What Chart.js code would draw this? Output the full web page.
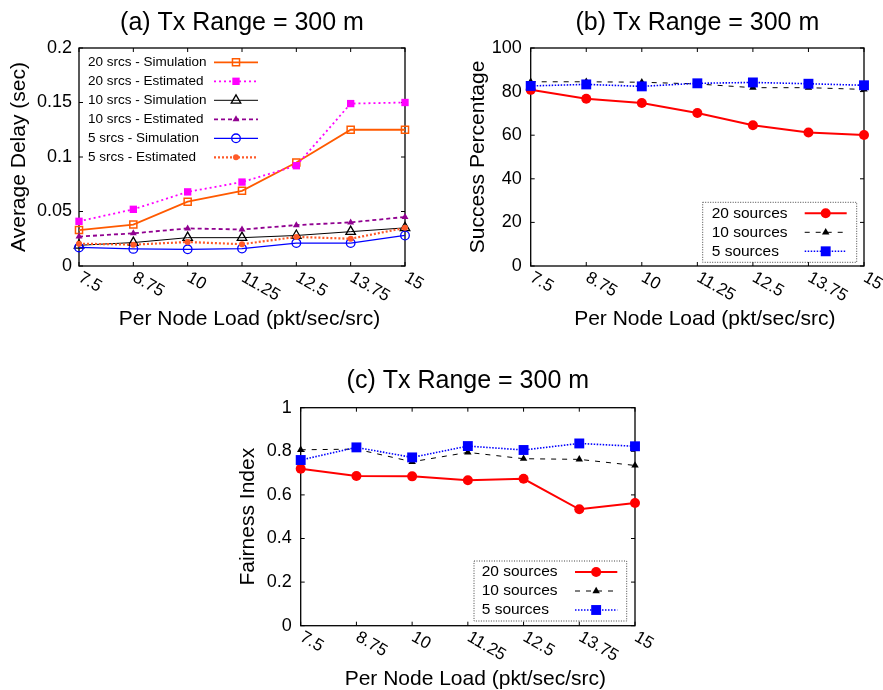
<!DOCTYPE html>
<html>
<head>
<meta charset="utf-8">
<script src="https://cdn.jsdelivr.net/npm/chart.js@4.4.1/dist/chart.umd.min.js"></script>
<style>
  body { margin: 0; background: #fff; }
  .box { position: absolute; }
</style>
</head>
<body>
<div class="box" style="left:0;top:0;width:440px;height:340px"><canvas id="delayChart" width="440" height="340"></canvas></div>
<div class="box" style="left:440px;top:0;width:443px;height:340px"><canvas id="successChart" width="443" height="340"></canvas></div>
<div class="box" style="left:200px;top:340px;width:480px;height:350px"><canvas id="fairChart" width="480" height="350"></canvas></div>
<script>
const loads = ['7.5', '8.75', '10', '11.25', '12.5', '13.75', '15'];

const delaySim20 = [0.033, 0.038, 0.059, 0.069, 0.095, 0.125, 0.125];
const delayEst20 = [0.041, 0.052, 0.068, 0.077, 0.092, 0.149, 0.150];
const delaySim10 = [0.019, 0.0215, 0.026, 0.026, 0.028, 0.0315, 0.035];
const delayEst10 = [0.027, 0.030, 0.0345, 0.0335, 0.0375, 0.040, 0.045];
const delaySim5 = [0.017, 0.0157, 0.0153, 0.016, 0.021, 0.021, 0.028];
const delayEst5 = [0.0205, 0.0196, 0.022, 0.020, 0.0267, 0.025, 0.035];

const success20 = [80.8, 76.7, 74.8, 70.2, 64.6, 61.2, 60.1];
const success10 = [84.5, 84.5, 84.3, 83.5, 81.8, 81.8, 81];
const success5 = [82.6, 83.3, 82.4, 83.8, 84.2, 83.6, 82.9];

const fair20 = [0.720, 0.687, 0.685, 0.667, 0.674, 0.534, 0.563];
const fair10 = [0.807, 0.810, 0.752, 0.795, 0.766, 0.763, 0.735];
const fair5 = [0.760, 0.818, 0.772, 0.824, 0.806, 0.836, 0.823];

const delayTicks = ['0', '0.05', '0.1', '0.15', '0.2'];
const successTicks = ['0', '20', '40', '60', '80', '100'];
const fairTicks = ['0', '0.2', '0.4', '0.6', '0.8', '1'];

const FONT = '"Liberation Sans", Arial, sans-serif';
Chart.defaults.font.family = FONT;
Chart.defaults.color = '#000';

function drawMarker(ctx, style, x, y, r, fill, stroke, lw) {
    ctx.beginPath();
    if (style === 'rect') {
        const s = r * Math.SQRT1_2;
        ctx.rect(x - s, y - s, 2 * s, 2 * s);
    } else if (style === 'triangle') {
        for (let k = 0; k < 3; k++) {
            const a = k * 2 * Math.PI / 3;
            const px = x + Math.sin(a) * r, py = y - Math.cos(a) * r;
            k ? ctx.lineTo(px, py) : ctx.moveTo(px, py);
        }
        ctx.closePath();
    } else {
        ctx.arc(x, y, r, 0, Math.PI * 2);
    }
    if (fill && fill !== 'transparent') { ctx.fillStyle = fill; ctx.fill(); }
    if (lw) { ctx.lineWidth = lw; ctx.strokeStyle = stroke; ctx.stroke(); }
}

// gnuplot-like frame, inward ticks, slanted x labels, x title and key
const gnuStyle = {
    id: 'gnuStyle',
    beforeDatasetsDraw(chart, args, opts) {
        const { ctx, chartArea: a, scales: { x, y } } = chart;
        ctx.save();
        ctx.strokeStyle = '#000';
        ctx.lineWidth = 1.3;
        ctx.strokeRect(a.left, a.top, a.right - a.left, a.bottom - a.top);
        ctx.lineWidth = 1;
        ctx.beginPath();
        y.ticks.forEach(t => {
            const py = y.getPixelForValue(t.value);
            ctx.moveTo(a.left, py); ctx.lineTo(a.left + 4, py);
            ctx.moveTo(a.right, py); ctx.lineTo(a.right - 4, py);
        });
        chart.data.labels.forEach((l, i) => {
            const px = x.getPixelForValue(i);
            ctx.moveTo(px, a.bottom); ctx.lineTo(px, a.bottom - 4);
            ctx.moveTo(px, a.top); ctx.lineTo(px, a.top + 4);
        });
        ctx.stroke();

        ctx.fillStyle = '#000';
        ctx.font = '17px ' + FONT;
        ctx.textAlign = 'left';
        ctx.textBaseline = 'top';
        chart.data.labels.forEach((l, i) => {
            ctx.save();
            ctx.translate(x.getPixelForValue(i) + 5, a.bottom + 3);
            ctx.rotate(Math.PI / 6);
            ctx.fillText(l, 0, 0);
            ctx.restore();
        });

        ctx.font = '21px ' + FONT;
        ctx.textAlign = 'center';
        ctx.textBaseline = 'middle';
        ctx.fillText(opts.xTitle, (a.left + a.right) / 2 + 7.5, chart.height - opts.xTitleOffset);
        ctx.restore();
    },
    afterDatasetsDraw(chart, args, opts) {
        const { ctx, chartArea: a } = chart;
        const sets = chart.data.datasets;
        const n = sets.length;
        let x0, y0;
        if (opts.corner === 'bottomRight') {
            x0 = a.right - opts.right - opts.width;
            y0 = a.bottom - opts.bottom - opts.rowH * n - opts.padY * 2;
        } else {
            x0 = a.left + opts.left;
            y0 = a.top + opts.top;
        }
        ctx.save();
        if (opts.border) {
            ctx.strokeStyle = '#444';
            ctx.lineWidth = 1;
            ctx.setLineDash([1, 1.5]);
            ctx.strokeRect(x0, y0, opts.width, opts.rowH * n + opts.padY * 2);
            ctx.setLineDash([]);
        }
        ctx.font = opts.fontSize + 'px ' + FONT;
        ctx.textAlign = 'left';
        ctx.textBaseline = 'middle';
        sets.forEach((ds, i) => {
            const cy = y0 + opts.padY + opts.rowH * (i + 0.5);
            ctx.fillStyle = '#000';
            ctx.fillText(ds.label, x0 + opts.textX, cy);
            const s0 = x0 + opts.sampleX, s1 = s0 + opts.sampleW;
            ctx.strokeStyle = ds.borderColor;
            ctx.lineWidth = ds.borderWidth;
            ctx.setLineDash(ds.borderDash || []);
            ctx.beginPath();
            ctx.moveTo(s0, cy); ctx.lineTo(s1, cy);
            ctx.stroke();
            ctx.setLineDash([]);
            drawMarker(ctx, ds.pointStyle, (s0 + s1) / 2, cy, ds.pointRadius,
                ds.pointBackgroundColor, ds.pointBorderColor, ds.pointBorderWidth);
        });
        ctx.restore();
    }
};

function series(label, data, i, st) {
    return Object.assign({
        label: label,
        data: data,
        order: -i,
        clip: false,
        tension: 0,
        fill: false,
        pointBorderColor: st.borderColor,
        pointBackgroundColor: st.borderColor,
        pointBorderWidth: 0
    }, st);
}

function makeChart(id, cfg) {
    return new Chart(document.getElementById(id), {
        type: 'line',
        data: { labels: loads, datasets: cfg.datasets },
        options: {
            responsive: false,
            animation: false,
            layout: { padding: { left: 0, right: cfg.padRight, top: 0, bottom: 0 } },
            plugins: {
                legend: { display: false },
                tooltip: { enabled: false },
                title: {
                    display: true,
                    fullSize: false,
                    text: cfg.title,
                    color: '#000',
                    font: { size: 25, weight: 'normal', lineHeight: 1 },
                    padding: cfg.titlePad
                },
                gnuStyle: Object.assign({ xTitle: 'Per Node Load (pkt/sec/src)', xTitleOffset: cfg.xTitleOffset }, cfg.key)
            },
            scales: {
                x: {
                    ticks: { display: false },
                    grid: { display: false, drawTicks: false },
                    border: { display: false },
                    afterFit: s => { s.height = cfg.xHeight; }
                },
                y: {
                    min: cfg.yMin,
                    max: cfg.yMax,
                    ticks: {
                        stepSize: cfg.yStep,
                        padding: cfg.yTickPad,
                        color: '#000',
                        font: { size: 18 },
                        callback: (v, i) => cfg.yTicks[i]
                    },
                    grid: { display: false, drawTicks: false },
                    border: { display: false },
                    title: {
                        display: true,
                        text: cfg.yTitle,
                        color: '#000',
                        font: { size: 21, lineHeight: 1 },
                        padding: { top: cfg.yTitlePad, bottom: 0 }
                    },
                    afterFit: s => { s.width = cfg.yWidth; }
                }
            }
        },
        plugins: [gnuStyle]
    });
}

makeChart('delayChart', {
    title: '(a) Tx Range = 300 m',
    titlePad: { top: 11, bottom: 12 },
    padRight: 35, xHeight: 74, xTitleOffset: 21,
    yWidth: 79, yTitlePad: 8.5, yTickPad: 7,
    yMin: 0, yMax: 0.2, yStep: 0.05, yTicks: delayTicks,
    yTitle: 'Average Delay (sec)',
    key: { corner: 'topLeft', left: 9, top: 4.8, rowH: 19, padY: 0, textX: 0, sampleX: 126, sampleW: 44, fontSize: 13.5, border: false },
    datasets: [
        series('20 srcs - Simulation', delaySim20, 0, { borderColor: '#ff5a00', borderWidth: 1.8, pointStyle: 'rect', pointRadius: 5, pointBackgroundColor: 'transparent', pointBorderWidth: 1.5 }),
        series('20 srcs - Estimated', delayEst20, 1, { borderColor: '#ff00ff', borderWidth: 1.8, borderDash: [2, 3], pointStyle: 'rect', pointRadius: 5.2 }),
        series('10 srcs - Simulation', delaySim10, 2, { borderColor: '#000000', borderWidth: 1, pointStyle: 'triangle', pointRadius: 5.5, pointBackgroundColor: 'transparent', pointBorderWidth: 1.3 }),
        series('10 srcs - Estimated', delayEst10, 3, { borderColor: '#900090', borderWidth: 1.8, borderDash: [4, 3], pointStyle: 'triangle', pointRadius: 4 }),
        series('5 srcs - Simulation', delaySim5, 4, { borderColor: '#0000ff', borderWidth: 1.3, pointStyle: 'circle', pointRadius: 4.3, pointBackgroundColor: 'transparent', pointBorderWidth: 1.3 }),
        series('5 srcs - Estimated', delayEst5, 5, { borderColor: '#ff5a28', borderWidth: 2.2, borderDash: [2, 2], pointStyle: 'circle', pointRadius: 3 })
    ]
});

const sourceStyles = [
    { borderColor: '#ff0000', borderWidth: 2, pointStyle: 'circle', pointRadius: 5 },
    { borderColor: '#000000', borderWidth: 1, borderDash: [5, 6], pointStyle: 'triangle', pointRadius: 4.3 },
    { borderColor: '#0000ff', borderWidth: 1.6, borderDash: [1.5, 1.5], pointStyle: 'rect', pointRadius: 7 }
];

makeChart('successChart', {
    title: '(b) Tx Range = 300 m',
    titlePad: { top: 11, bottom: 12 },
    padRight: 19, xHeight: 74, xTitleOffset: 21,
    yWidth: 90.7, yTitlePad: 27.5, yTickPad: 9,
    yMin: 0, yMax: 100, yStep: 20, yTicks: successTicks,
    yTitle: 'Success Percentage',
    key: { corner: 'bottomRight', right: 7.3, bottom: 3.7, width: 154, rowH: 19, padY: 1.5, textX: 9, sampleX: 102, sampleW: 42, fontSize: 15.5, border: true },
    datasets: [
        series('20 sources', success20, 0, sourceStyles[0]),
        series('10 sources', success10, 1, sourceStyles[1]),
        series('5 sources', success5, 2, sourceStyles[2])
    ]
});

makeChart('fairChart', {
    title: '(c) Tx Range = 300 m',
    titlePad: { top: 29, bottom: 13.7 },
    padRight: 45, xHeight: 64.3, xTitleOffset: 11,
    yWidth: 100.7, yTitlePad: 38, yTickPad: 9,
    yMin: 0, yMax: 1, yStep: 0.2, yTicks: fairTicks,
    yTitle: 'Fairness Index',
    key: { corner: 'bottomRight', right: 8.3, bottom: 4.7, width: 152.7, rowH: 19, padY: 1.5, textX: 7.7, sampleX: 101, sampleW: 42.3, fontSize: 15.5, border: true },
    datasets: [
        series('20 sources', fair20, 0, sourceStyles[0]),
        series('10 sources', fair10, 1, sourceStyles[1]),
        series('5 sources', fair5, 2, sourceStyles[2])
    ]
});
</script>
</body>
</html>
